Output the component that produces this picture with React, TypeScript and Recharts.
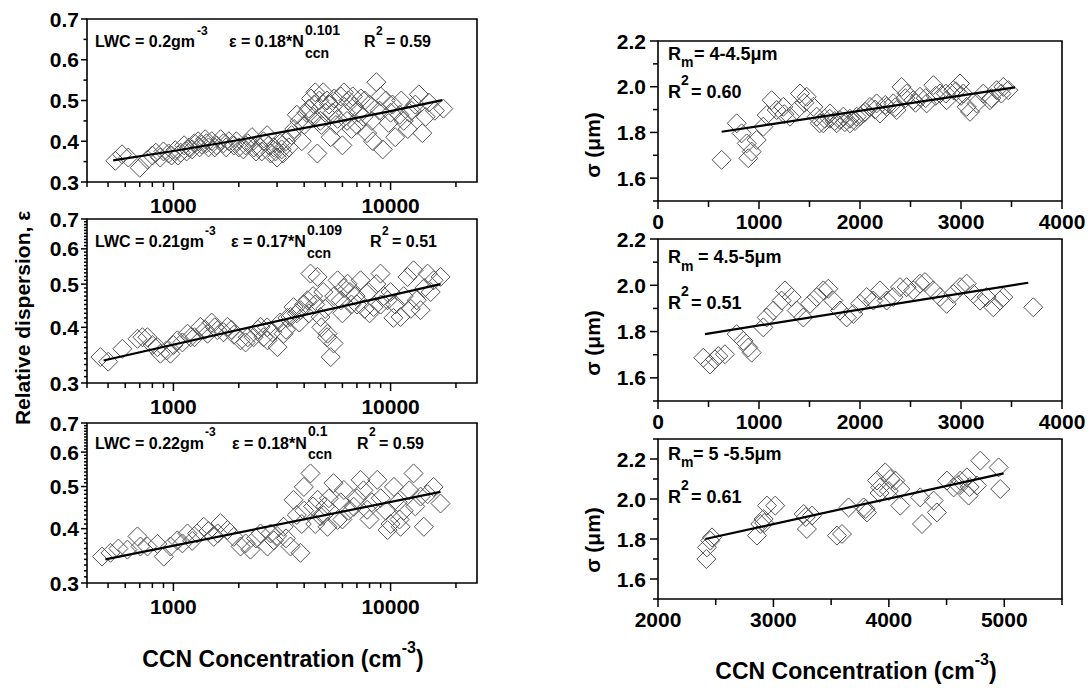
import React from 'react';
import { ScatterChart, Scatter, XAxis, YAxis, ReferenceArea } from 'recharts';

const FONT = '"Liberation Sans", Arial, Helvetica, sans-serif';

// ---------- data ----------
const l1Points: [number, number][] = [
  [540,0.352],[580,0.368],[620,0.36],[700,0.335],[760,0.355],[800,0.365],[830,0.372],[870,0.36],[900,0.375],[950,0.37],
  [980,0.365],[1020,0.378],[1050,0.365],[1080,0.372],[1120,0.39],[1150,0.375],[1180,0.385],[1220,0.38],[1250,0.395],[1300,0.40],
  [1320,0.385],[1350,0.392],[1400,0.405],[1420,0.395],[1450,0.385],[1500,0.40],[1550,0.385],[1580,0.39],[1650,0.405],[1700,0.395],
  [1750,0.385],[1800,0.40],[1900,0.39],[1950,0.40],[2000,0.385],[2100,0.38],[2150,0.39],[2200,0.395],[2300,0.41],[2350,0.385],
  [2400,0.375],[2500,0.385],[2550,0.375],[2600,0.40],[2700,0.415],[2750,0.39],[2800,0.37],[2900,0.385],[2950,0.375],[3000,0.36],
  [3100,0.395],[3150,0.38],[3200,0.37],[3300,0.40],[3400,0.385],[3500,0.415],[3600,0.43],[3700,0.465],[3800,0.45],[3900,0.40],
  [4000,0.44],[4100,0.47],[4200,0.48],[4300,0.505],[4400,0.46],[4450,0.49],[4500,0.52],[4600,0.37],[4700,0.5],[4750,0.45],
  [4800,0.44],[4900,0.52],[5000,0.47],[5100,0.50],[5200,0.49],[5300,0.41],[5400,0.47],[5500,0.505],[5600,0.44],[5700,0.455],
  [5900,0.51],[6000,0.39],[6100,0.52],[6200,0.47],[6300,0.45],[6400,0.5],[6600,0.43],[6700,0.51],[6800,0.485],[7000,0.44],
  [7100,0.47],[7300,0.505],[7500,0.46],[7600,0.50],[7800,0.42],[8000,0.49],[8200,0.45],[8300,0.40],[8600,0.545],[8900,0.475],
  [9000,0.51],[9200,0.38],[9500,0.5],[9800,0.445],[10000,0.47],[10200,0.49],[10500,0.41],[11000,0.465],[11200,0.50],[11500,0.45],
  [12000,0.43],[12200,0.47],[12500,0.475],[13000,0.49],[13500,0.515],[14000,0.42],[14500,0.46],[15000,0.495],[16000,0.475],[17500,0.48],
];
const l1Fit: [number, number][] = [[528,0.353],[1000,0.376],[2000,0.403],[5000,0.442],[10000,0.474],[17300,0.501]];

const l2Points: [number, number][] = [
  [461,0.343],[501,0.335],[582,0.358],[683,0.377],[720,0.38],[759,0.38],[800,0.365],[844,0.361],[871,0.349],[930,0.355],
  [969,0.349],[1000,0.365],[1043,0.374],[1100,0.37],[1161,0.387],[1200,0.38],[1250,0.38],[1332,0.401],[1400,0.395],[1435,0.387],
  [1500,0.41],[1550,0.40],[1596,0.394],[1700,0.39],[1774,0.401],[1850,0.395],[1900,0.385],[2037,0.374],[2150,0.37],[2200,0.38],
  [2339,0.38],[2450,0.395],[2518,0.401],[2600,0.38],[2700,0.40],[2711,0.374],[2850,0.39],[3014,0.361],[3100,0.41],[3215,0.387],
  [3300,0.395],[3350,0.42],[3460,0.422],[3573,0.444],[3700,0.43],[3800,0.41],[3847,0.437],[4000,0.45],[4142,0.46],[4200,0.43],
  [4277,0.528],[4400,0.47],[4500,0.45],[4611,0.519],[4755,0.422],[4800,0.40],[4900,0.48],[5000,0.44],[5100,0.38],[5125,0.387],
  [5300,0.343],[5461,0.368],[5500,0.47],[5700,0.51],[5900,0.46],[6000,0.43],[6100,0.49],[6337,0.501],[6500,0.48],[6600,0.45],
  [6900,0.47],[7000,0.45],[7274,0.51],[7600,0.44],[7900,0.48],[8000,0.43],[8350,0.444],[8600,0.50],[8990,0.528],[9000,0.45],
  [9300,0.47],[9685,0.46],[10000,0.48],[10300,0.42],[10500,0.45],[11120,0.422],[11500,0.47],[11970,0.519],[12400,0.44],[12760,0.537],
  [13200,0.46],[13740,0.437],[14300,0.49],[14810,0.528],[15300,0.48],[15780,0.51],[16990,0.519],
];
const l2Fit: [number, number][] = [[477,0.337],[16990,0.5]];

const l3Points: [number, number][] = [
  [469,0.345],[513,0.352],[558,0.36],[614,0.358],[683,0.384],[705,0.364],[759,0.364],[844,0.369],[903,0.345],[969,0.364],
  [1043,0.376],[1100,0.37],[1161,0.39],[1220,0.375],[1285,0.39],[1380,0.404],[1450,0.395],[1534,0.383],[1600,0.39],[1647,0.412],
  [1774,0.397],[1896,0.383],[2037,0.364],[2150,0.37],[2264,0.358],[2400,0.38],[2518,0.39],[2711,0.364],[2800,0.39],[2900,0.376],
  [3000,0.385],[3215,0.404],[3300,0.38],[3460,0.364],[3573,0.466],[3700,0.43],[3847,0.352],[3900,0.41],[3987,0.499],[4000,0.44],
  [4277,0.536],[4400,0.45],[4500,0.41],[4611,0.466],[4755,0.427],[4900,0.43],[5000,0.45],[5125,0.404],[5200,0.47],[5461,0.509],
  [5700,0.419],[5900,0.46],[6000,0.42],[6095,0.491],[6400,0.44],[6773,0.449],[7000,0.47],[7274,0.518],[7500,0.49],[7800,0.442],
  [8000,0.42],[8200,0.46],[8682,0.518],[9000,0.47],[9500,0.44],[9685,0.397],[10000,0.41],[10360,0.499],[10800,0.46],[11000,0.42],
  [11120,0.404],[11500,0.44],[12200,0.49],[12760,0.536],[13000,0.45],[13740,0.474],[14230,0.404],[14800,0.48],[15780,0.499],[16990,0.457],
];
const l3Fit: [number, number][] = [[486,0.34],[16990,0.486]];

const r1Points: [number, number][] = [
  [630,1.68],[779,1.84],[828,1.796],[878,1.752],[894,1.687],[927,1.716],[977,1.767],[1043,1.825],[1076,1.876],[1125,1.941],
  [1175,1.898],[1241,1.912],[1250,1.88],[1307,1.869],[1373,1.898],[1406,1.97],[1450,1.93],[1472,1.956],[1538,1.912],[1571,1.869],
  [1600,1.84],[1637,1.84],[1650,1.86],[1703,1.883],[1700,1.86],[1750,1.85],[1769,1.84],[1800,1.855],[1835,1.869],[1850,1.845],
  [1901,1.84],[1900,1.86],[1950,1.85],[1967,1.869],[2000,1.87],[2033,1.883],[2050,1.89],[2099,1.912],[2150,1.9],[2165,1.927],
  [2198,1.883],[2250,1.92],[2264,1.912],[2330,1.927],[2350,1.91],[2363,1.898],[2412,1.999],[2450,1.95],[2462,1.97],[2528,1.941],
  [2550,1.93],[2594,1.956],[2650,1.95],[2660,1.927],[2726,2.007],[2750,1.96],[2792,1.97],[2850,1.97],[2858,1.941],[2924,1.985],
  [2950,1.98],[2990,2.014],[3000,1.96],[3023,1.97],[3056,1.912],[3089,1.89],[3155,1.927],[3221,1.97],[3287,1.941],[3300,1.95],
  [3353,1.985],[3400,1.97],[3419,1.999],[3468,1.985],
];
const r1Fit: [number, number][] = [[630,1.803],[3534,1.997]];

const r2Points: [number, number][] = [
  [449,1.687],[515,1.658],[564,1.68],[597,1.694],[663,1.702],[779,1.789],[845,1.76],[894,1.731],[927,1.709],[1043,1.818],
  [1076,1.861],[1142,1.891],[1224,1.934],[1257,1.978],[1323,1.949],[1373,1.891],[1439,1.861],[1505,1.92],[1571,1.949],[1637,1.978],
  [1686,1.985],[1736,1.934],[1802,1.891],[1868,1.861],[1934,1.876],[2000,1.92],[2066,1.949],[2132,1.934],[2198,1.978],[2264,1.934],
  [2330,1.949],[2396,1.992],[2462,1.992],[2528,1.978],[2594,2.007],[2643,2.014],[2726,1.978],[2792,1.949],[2858,1.92],[2924,1.963],
  [2990,1.992],[3056,2.007],[3122,1.963],[3188,1.934],[3254,1.949],[3320,1.905],[3386,1.934],[3419,1.949],[3716,1.905],
];
const r2Fit: [number, number][] = [[465,1.789],[3666,2.011]];

const r3Points: [number, number][] = [
  [2419,1.7],[2424,1.758],[2453,1.792],[2468,1.808],[2857,1.817],[2886,1.875],[2915,1.9],[2920,1.88],[2944,1.967],[3016,1.967],
  [3262,1.925],[3280,1.91],[3290,1.85],[3334,1.917],[3550,1.817],[3594,1.825],[3651,1.958],[3781,1.958],[3800,1.95],[3810,1.933],
  [3897,2.092],[3920,2.03],[3925,2.058],[3969,2.133],[4000,2.04],[4012,2.1],[4056,2.092],[4099,2.05],[4099,1.967],[4272,2.008],
  [4287,1.875],[4388,1.992],[4416,1.933],[4503,2.092],[4561,2.058],[4600,2.07],[4619,2.092],[4676,2.108],[4691,2.017],[4700,2.06],
  [4763,2.067],[4792,2.192],[4951,2.158],[4965,2.05],
];
const r3Fit: [number, number][] = [[2410,1.8],[4994,2.128]];

// ---------- ticks ----------
const logXTicks = [400,500,600,700,800,900,1000,2000,3000,4000,5000,6000,7000,8000,9000,10000,20000];
const logXMajor = [1000,10000];
const linEpsTicks = [0.3,0.35,0.4,0.45,0.5,0.55,0.6,0.65,0.7];
const epsMajor = [0.3,0.4,0.5,0.6,0.7];
const logEpsTicks = Array.from({ length: 41 }, (_, i) => Math.round((0.3 + i * 0.01) * 100) / 100);
const r12XTicks = [0,500,1000,1500,2000,2500,3000,3500,4000];
const r12XMajor = [0,1000,2000,3000,4000];
const r3XTicks = [2000,2500,3000,3500,4000,4500,5000,5500];
const r3XMajor = [2000,3000,4000,5000];
const r12YTicks = [1.5,1.6,1.7,1.8,1.9,2.0,2.1,2.2];
const r3YTicks = [1.5,1.6,1.7,1.8,1.9,2.0,2.1,2.2,2.3];
const sigmaMajor = [1.6,1.8,2.0,2.2];

const toPts = (a: [number, number][]) => a.map(([x, y]) => ({ x, y }));
const isIn = (arr: number[], v: number) => arr.some((m) => Math.abs(m - v) < 1e-9);

const TICK_FS = 21;

const makeXTick = (major: number[], majLen: number, minLen: number, dy: number) => (p: any) => {
  const { x, y, payload } = p;
  const v = payload.value;
  const mj = isIn(major, v);
  return (
    <g>
      <line x1={x} x2={x} y1={y} y2={y + (mj ? majLen : minLen)} stroke="#000" strokeWidth={1.5} />
      {mj && (
        <text x={x} y={y + dy} textAnchor="middle" fontSize={TICK_FS} fontWeight="bold" fontFamily={FONT} fill="#000">
          {String(v)}
        </text>
      )}
    </g>
  );
};

const makeYTick = (major: number[], majLen: number, minLen: number, gap: number) => (p: any) => {
  const { x, y, payload } = p;
  const v = payload.value;
  const mj = isIn(major, v);
  return (
    <g>
      <line x1={x} x2={x - (mj ? majLen : minLen)} y1={y} y2={y} stroke="#000" strokeWidth={1.5} />
      {mj && (
        <text x={x - gap} y={y + 7.5} textAnchor="end" fontSize={TICK_FS} fontWeight="bold" fontFamily={FONT} fill="#000">
          {v.toFixed(1)}
        </text>
      )}
    </g>
  );
};

const Diamond = (p: any) => {
  const { cx, cy } = p;
  if (cx == null || cy == null) return <g />;
  const h = 9.5;
  return (
    <polygon
      points={`${cx},${cy - h} ${cx + h},${cy} ${cx},${cy + h} ${cx - h},${cy}`}
      fill="none"
      stroke="#555"
      strokeWidth={1}
    />
  );
};

const NoShape = () => <g />;

type PanelProps = {
  plotX: number; plotY: number; plotW: number; plotH: number; padR: number;
  points: [number, number][]; fit: [number, number][];
  xScale: 'log' | 'linear'; yScale: 'log' | 'linear';
  xDomain: [number, number]; yDomain: [number, number];
  xTicks: number[]; xMajor: number[]; yTicks: number[]; yMajor: number[];
  xDy: number; yMaj: number; yMin: number; yGap: number; xMaj: number; xMin: number;
};

function Panel(pp: PanelProps) {
  const padL = 75, padT = 12, padB = 40;
  return (
    <div style={{ position: 'absolute', left: pp.plotX - padL, top: pp.plotY - padT }}>
      <ScatterChart
        width={padL + pp.plotW + pp.padR}
        height={padT + pp.plotH + padB}
        margin={{ top: padT, right: pp.padR, bottom: 0, left: 0 }}
      >
        <XAxis
          dataKey="x" type="number" scale={pp.xScale} domain={pp.xDomain} allowDataOverflow
          ticks={pp.xTicks} interval={0} tickSize={0} tickMargin={0} tickLine={false} axisLine={false}
          height={padB} tick={makeXTick(pp.xMajor, pp.xMaj, pp.xMin, pp.xDy)}
        />
        <YAxis
          dataKey="y" type="number" scale={pp.yScale} domain={pp.yDomain} allowDataOverflow
          ticks={pp.yTicks} interval={0} tickSize={0} tickMargin={0} tickLine={false} axisLine={false}
          width={padL} tick={makeYTick(pp.yMajor, pp.yMaj, pp.yMin, pp.yGap)}
        />
        <Scatter data={toPts(pp.points)} shape={Diamond} isAnimationActive={false} />
        <Scatter
          data={toPts(pp.fit)} shape={NoShape} line={{ stroke: '#000', strokeWidth: 2.2 }}
          lineType="joint" isAnimationActive={false}
        />
        <ReferenceArea
          x1={pp.xDomain[0]} x2={pp.xDomain[1]} y1={pp.yDomain[0]} y2={pp.yDomain[1]}
          fill="none" fillOpacity={0} stroke="#000" strokeWidth={1.6} ifOverflow="visible"
        />
      </ScatterChart>
    </div>
  );
}

const T = ({ x, y, s, children, anchor }: any) => (
  <text x={x} y={y} fontSize={s} fontWeight="bold" fontFamily={FONT} textAnchor={anchor || 'start'} fill="#000">
    {children}
  </text>
);

const RT = ({ x, y, s, children }: any) => (
  <text
    x={x} y={y} fontSize={s} fontWeight="bold" fontFamily={FONT} textAnchor="middle"
    dominantBaseline="central" fill="#000" transform={`rotate(-90 ${x} ${y})`}
  >
    {children}
  </text>
);

const XTitle = ({ x, y }: any) => (
  <text x={x} y={y} fontSize={23} fontWeight="bold" fontFamily={FONT} textAnchor="middle" fill="#000">
    CCN Concentration (cm
    <tspan dy={-14} fontSize={16}>-3</tspan>
    <tspan dy={14}>)</tspan>
  </text>
);

const leftCommon = {
  plotX: 87, plotW: 390, padR: 14, xScale: 'log' as const, xDomain: [400, 25000] as [number, number],
  xTicks: logXTicks, xMajor: logXMajor, xDy: 31, yMaj: 6, yMin: 3.5, yGap: 8, xMaj: 8, xMin: 5,
  yDomain: [0.3, 0.7] as [number, number], yMajor: epsMajor,
};
const rightCommon = {
  plotX: 658, plotW: 404, padR: 28, xScale: 'linear' as const, xDy: 28, yMaj: 8, yMin: 5, yGap: 12,
  xMaj: 8, xMin: 6, yMajor: sigmaMajor, yScale: 'linear' as const,
};

export default function App() {
  return (
    <div style={{ position: 'absolute', left: 0, top: 0, width: 1090, height: 688, background: '#fff', overflow: 'hidden' }}>
      <Panel {...leftCommon} plotY={19} plotH={163} points={l1Points} fit={l1Fit} yScale="linear" yTicks={linEpsTicks} />
      <Panel {...leftCommon} plotY={219} plotH={164} points={l2Points} fit={l2Fit} yScale="log" yTicks={logEpsTicks} yMin={3} />
      <Panel {...leftCommon} plotY={423} plotH={160} points={l3Points} fit={l3Fit} yScale="log" yTicks={logEpsTicks} yMin={3} />

      <Panel {...rightCommon} plotY={41} plotH={160} points={r1Points} fit={r1Fit}
        xDomain={[0, 4000]} xTicks={r12XTicks} xMajor={r12XMajor} yDomain={[1.5, 2.2]} yTicks={r12YTicks} />
      <Panel {...rightCommon} plotY={239} plotH={162} points={r2Points} fit={r2Fit}
        xDomain={[0, 4000]} xTicks={r12XTicks} xMajor={r12XMajor} yDomain={[1.5, 2.2]} yTicks={r12YTicks} />
      <Panel {...rightCommon} plotY={439} plotH={160} points={r3Points} fit={r3Fit}
        xDomain={[2000, 5500]} xTicks={r3XTicks} xMajor={r3XMajor} yDomain={[1.5, 2.3]} yTicks={r3YTicks} />

      <svg width={1090} height={688} style={{ position: 'absolute', left: 0, top: 0, pointerEvents: 'none' }}>
        {/* left panel annotations */}
        <T x={95} y={47} s={16}>LWC = 0.2gm</T>
        <T x={197} y={35} s={12}>-3</T>
        <T x={229} y={47} s={16}>ε = 0.18*N</T>
        <T x={305} y={35} s={14}>0.101</T>
        <T x={305} y={58} s={14}>ccn</T>
        <T x={364} y={47} s={16}>R</T>
        <T x={376} y={35} s={12}>2</T>
        <T x={386} y={47} s={16}>= 0.59</T>

        <T x={95} y={247} s={16}>LWC = 0.21gm</T>
        <T x={205} y={235} s={12}>-3</T>
        <T x={231} y={247} s={16}>ε = 0.17*N</T>
        <T x={307} y={235} s={14}>0.109</T>
        <T x={307} y={258} s={14}>ccn</T>
        <T x={370} y={247} s={16}>R</T>
        <T x={382} y={235} s={12}>2</T>
        <T x={392} y={247} s={16}>= 0.51</T>

        <T x={95} y={449} s={16}>LWC = 0.22gm</T>
        <T x={205} y={436} s={12}>-3</T>
        <T x={232} y={449} s={16}>ε = 0.18*N</T>
        <T x={308} y={436} s={14}>0.1</T>
        <T x={308} y={459} s={14}>ccn</T>
        <T x={357} y={449} s={16}>R</T>
        <T x={369} y={436} s={12}>2</T>
        <T x={379} y={449} s={16}>= 0.59</T>

        {/* right panel annotations */}
        <T x={668} y={60} s={18}>R</T>
        <T x={681} y={67} s={14}>m</T>
        <T x={694} y={60} s={18}>= 4-4.5μm</T>
        <T x={668} y={98} s={18}>R</T>
        <T x={681} y={85} s={14}>2</T>
        <T x={691} y={98} s={18}>= 0.60</T>

        <T x={668} y={263} s={18}>R</T>
        <T x={681} y={271} s={14}>m</T>
        <T x={698} y={263} s={18}>= 4.5-5μm</T>
        <T x={668} y={309} s={18}>R</T>
        <T x={681} y={296} s={14}>2</T>
        <T x={691} y={309} s={18}>= 0.51</T>

        <T x={668} y={460} s={18}>R</T>
        <T x={681} y={467} s={14}>m</T>
        <T x={693} y={460} s={18}>= 5 -5.5μm</T>
        <T x={668} y={503} s={18}>R</T>
        <T x={681} y={490} s={14}>2</T>
        <T x={691} y={503} s={18}>= 0.61</T>

        {/* axis titles */}
        <RT x={22} y={318} s={21}>Relative dispersion, ε</RT>
        <RT x={592} y={145} s={21}>σ (μm)</RT>
        <RT x={592} y={343} s={21}>σ (μm)</RT>
        <RT x={592} y={540} s={21}>σ (μm)</RT>

        <XTitle x={283} y={667} />
        <XTitle x={856} y={679} />
      </svg>
    </div>
  );
}
